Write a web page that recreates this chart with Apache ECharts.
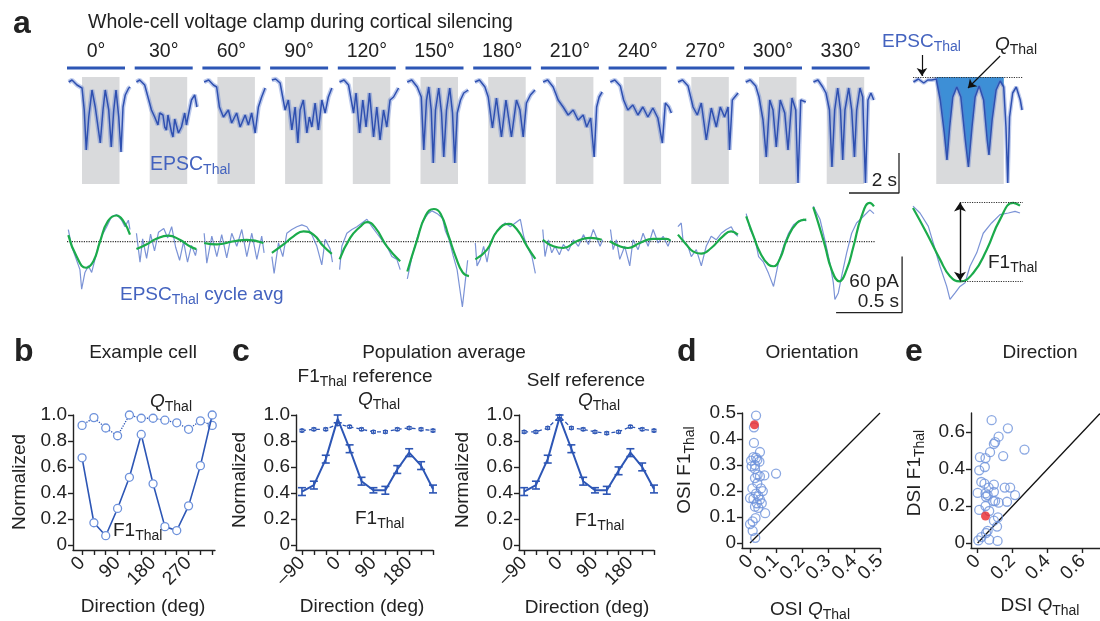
<!DOCTYPE html>
<html>
<head>
<meta charset="utf-8">
<script src="https://cdn.jsdelivr.net/npm/echarts@6/dist/echarts.min.js"></script>
<style>
html, body { margin: 0; padding: 0; background: #fff; }
#chart { width: 1100px; height: 621px; }
</style>
</head>
<body>
<div id="chart"></div>
<script>
const FONT = 'Liberation Sans, Arial, Helvetica, sans-serif';
const INK = '#222';
const TRACE_BLUE = '#2f50b0';
const TEXT_BLUE = '#4463bf';
const LINE_BLUE = '#2d56b5';
const DOT_BLUE = '#6e92db';
const FIT_GREEN = '#1bab4b';
const STIM_GRAY = '#d9dadc';
const FILL_BLUE = '#3d8fd6';
const RED = '#e8262b';

// ---- panel a : whole-cell traces, [time s, current pA] ----
const directions = [0, 30, 60, 90, 120, 150, 180, 210, 240, 270, 300, 330];

const trace000 = [[0.07,-5],[0.2,-3],[0.4,-8],[0.6,-11],[0.69,-33],[0.77,-73],[0.87,-40],[1.0,-13],[1.13,-30],[1.33,-66],[1.44,-33],[1.53,-13],[1.67,-33],[1.77,-70],[1.87,-33],[1.96,-13],[2.07,-40],[2.16,-75],[2.24,-30],[2.33,-18],[2.47,-11],[2.53,-10]];
const trace030 = [[0.07,-5],[0.2,-3],[0.4,-8],[0.53,-20],[0.67,-33],[0.8,-40],[0.93,-48],[1.0,-36],[1.13,-38],[1.2,-50],[1.27,-53],[1.33,-38],[1.4,-40],[1.47,-55],[1.53,-60],[1.6,-42],[1.67,-43],[1.75,-56],[1.87,-50],[2.0,-36],[2.07,-48],[2.13,-40],[2.27,-23],[2.4,-18],[2.49,-30]];
const trace060 = [[0.07,-5],[0.25,-3],[0.44,-8],[0.57,-10],[0.68,-30],[0.84,-40],[1.04,-33],[1.17,-46],[1.37,-36],[1.51,-50],[1.71,-38],[1.84,-48],[1.97,-36],[2.11,-56],[2.24,-30],[2.37,-20],[2.51,-11]];
const trace090 = [[0.07,-3],[0.22,-2],[0.4,-6],[0.6,-33],[0.73,-23],[0.87,-53],[1.0,-30],[1.11,-66],[1.2,-33],[1.33,-23],[1.47,-56],[1.57,-40],[1.67,-50],[1.8,-26],[1.93,-53],[2.07,-23],[2.2,-36],[2.33,-20],[2.47,-11]];
const trace120 = [[0.07,-5],[0.25,-3],[0.43,-8],[0.63,-36],[0.73,-16],[0.87,-56],[1.0,-23],[1.13,-50],[1.27,-16],[1.43,-60],[1.56,-30],[1.69,-63],[1.83,-33],[1.96,-50],[2.09,-23],[2.23,-20],[2.43,-11]];
const trace150 = [[0.07,-5],[0.25,-3],[0.47,-10],[0.63,-20],[0.73,-73],[0.84,-23],[0.93,-10],[1.03,-33],[1.11,-86],[1.2,-33],[1.33,-11],[1.44,-36],[1.53,-80],[1.64,-33],[1.77,-11],[1.88,-36],[1.97,-86],[2.07,-36],[2.2,-23],[2.33,-16],[2.51,-13]];
const trace180 = [[0.07,-5],[0.25,-3],[0.47,-10],[0.6,-20],[0.77,-51],[0.93,-21],[1.13,-60],[1.31,-23],[1.53,-60],[1.73,-23],[1.87,-33],[2.0,-60],[2.13,-26],[2.29,-18],[2.47,-13]];
const trace210 = [[0.09,-5],[0.27,-3],[0.49,-10],[0.69,-23],[0.89,-30],[1.09,-38],[1.29,-33],[1.49,-43],[1.69,-38],[1.83,-50],[1.99,-41],[2.13,-80],[2.23,-30],[2.33,-20],[2.45,-15]];
const trace240 = [[0.07,-5],[0.25,-3],[0.47,-9],[0.6,-23],[0.77,-33],[0.97,-28],[1.17,-38],[1.37,-30],[1.57,-40],[1.77,-31],[1.97,-41],[2.15,-66],[2.27,-26],[2.41,-30],[2.51,-36]];
const trace270 = [[0.07,-5],[0.25,-3],[0.47,-9],[0.67,-30],[0.84,-38],[1.0,-26],[1.2,-63],[1.4,-31],[1.6,-50],[1.76,-30],[1.93,-40],[2.07,-30],[2.13,-73],[2.24,-23],[2.47,-16]];
const trace300 = [[0.07,-5],[0.25,-3],[0.47,-9],[0.6,-20],[0.76,-43],[0.89,-80],[1.03,-23],[1.16,-33],[1.29,-70],[1.45,-23],[1.63,-36],[1.76,-73],[1.92,-21],[2.07,-33],[2.16,-106],[2.27,-23],[2.47,-25]];
const trace330 = [[0.07,-5],[0.25,-3],[0.44,-10],[0.57,-16],[0.71,-33],[0.81,-90],[0.92,-33],[1.04,-11],[1.15,-33],[1.24,-83],[1.33,-33],[1.48,-11],[1.6,-33],[1.71,-80],[1.8,-33],[1.93,-11],[2.04,-20],[2.15,-106],[2.25,-23],[2.37,-16],[2.48,-23]];
const rawTraces = [trace000, trace030, trace060, trace090, trace120, trace150, trace180, trace210, trace240, trace270, trace300, trace330];

// cycle averages (blue) and F1 sinusoid fits (green), [time s, pA]
const cyc000 = [[0.01,13],[0.035,-5],[0.098,-30],[0.111,-51],[0.136,-33],[0.162,-26],[0.187,-33],[0.212,-19],[0.237,-5],[0.263,6],[0.301,16],[0.338,27],[0.376,29],[0.414,23],[0.439,16],[0.465,23],[0.477,13]];
const cyc030 = [[0.013,9],[0.04,-22],[0.06,3],[0.09,-18],[0.12,8],[0.15,-10],[0.18,10],[0.22,14],[0.25,4],[0.28,16],[0.31,-6],[0.34,-20],[0.37,0],[0.4,-22],[0.43,-4],[0.46,-15],[0.47,-8]];
const cyc060 = [[0.013,9],[0.033,-23],[0.071,6],[0.109,-16],[0.146,7.5],[0.184,-17.5],[0.222,9],[0.26,-5],[0.298,13],[0.336,-16],[0.374,9],[0.412,-19],[0.449,6],[0.467,-12]];
const cyc090 = [[0.013,-16],[0.03,-34],[0.063,-1.4],[0.096,-16],[0.126,9],[0.164,13],[0.202,16],[0.24,18],[0.278,16],[0.316,7.5],[0.354,-5],[0.391,-25],[0.417,2.6],[0.455,-8],[0.472,-22]];
const cyc120 = [[0.013,-30],[0.03,-5],[0.068,9],[0.106,13],[0.144,16],[0.182,20],[0.22,24],[0.258,16],[0.295,9],[0.333,2],[0.371,-5],[0.409,-16],[0.447,-19],[0.472,-30]];
const cyc150 = [[0.013,-40],[0.05,-15],[0.09,5],[0.13,22],[0.17,30],[0.2,33],[0.24,30],[0.28,25],[0.3,12],[0.33,2],[0.36,-15],[0.39,-30],[0.41,-50],[0.43,-70],[0.45,-45],[0.47,-20]];
const cyc180 = [[0.015,-1.4],[0.028,-26],[0.053,-19],[0.078,-5],[0.104,-22],[0.129,-1.4],[0.167,9],[0.205,16],[0.242,20],[0.28,16],[0.318,20],[0.356,24],[0.381,6],[0.407,-5],[0.444,-16],[0.47,-34]];
const cyc210 = [[0.013,13],[0.03,-16],[0.056,2],[0.081,-12],[0.106,-5],[0.139,-14],[0.169,-3],[0.207,-10],[0.245,2],[0.283,-5],[0.321,7.5],[0.359,-3],[0.396,13],[0.422,4],[0.447,-5],[0.467,2]];
const cyc240 = [[0.013,13],[0.033,-8.6],[0.058,2],[0.083,-19],[0.121,-5],[0.159,-26],[0.184,2],[0.222,-8.6],[0.26,9],[0.298,-5],[0.336,13],[0.374,-1.4],[0.412,5.7],[0.449,-5],[0.467,2]];
const cyc270 = [[0.011,16],[0.036,20],[0.049,2],[0.087,-5],[0.112,-16],[0.15,-8.6],[0.188,-26],[0.225,-5],[0.263,5.7],[0.301,2],[0.339,9],[0.377,13],[0.415,16],[0.44,9],[0.465,5.7]];
const cyc300 = [[0.015,30],[0.045,13],[0.083,2],[0.109,-16],[0.146,-22],[0.184,-34],[0.222,-48],[0.26,-22],[0.298,-5],[0.336,9],[0.374,18],[0.412,22],[0.449,24],[0.47,22]];
const cyc330 = [[0.01,38],[0.061,24],[0.098,2],[0.136,-23],[0.162,-44],[0.174,-62],[0.2,-55],[0.225,-37],[0.263,-12],[0.301,9],[0.338,20],[0.389,27],[0.439,34],[0.47,30]];
const cycleTraces = [cyc000, cyc030, cyc060, cyc090, cyc120, cyc150, cyc180, cyc210, cyc240, cyc270, cyc300, cyc330];

const fit000 = [[0.01,7],[0.073,-16],[0.144,-28],[0.2,-21],[0.25,0],[0.31,22],[0.376,28],[0.427,22],[0.477,7.5]];
const fit030 = [[0.013,-8],[0.088,-3],[0.164,3],[0.253,6.4],[0.341,2],[0.417,-5],[0.467,-8]];
const fit060 = [[0.013,-1.4],[0.109,-3],[0.235,0.4],[0.336,2],[0.462,-1.4]];
const fit090 = [[0.013,-12],[0.101,-3],[0.177,5.7],[0.253,11],[0.328,7.5],[0.404,-5],[0.467,-13]];
const fit120 = [[0.013,-19],[0.093,4],[0.169,16],[0.22,21],[0.283,15],[0.371,-5],[0.472,-21]];
const fit150 = [[0.013,-32],[0.083,0],[0.152,28],[0.214,35],[0.265,30],[0.328,5],[0.379,-16],[0.432,-33],[0.48,-37]];
const fit180 = [[0.015,-19],[0.104,-8.6],[0.179,11],[0.268,19],[0.331,13],[0.407,-5],[0.47,-18.6]];
const fit210 = [[0.013,2],[0.093,-5],[0.169,-6.8],[0.27,0.4],[0.371,4],[0.46,2]];
const fit240 = [[0.008,0.4],[0.083,-5],[0.146,-6.8],[0.235,-1.4],[0.336,2.9],[0.437,2.9],[0.467,1]];
const fit270 = [[0.011,7.5],[0.074,-3],[0.124,-10.4],[0.187,-12.9],[0.263,-6.8],[0.351,5.7],[0.414,11],[0.465,7.5]];
const fit300 = [[0.015,27],[0.071,5.7],[0.121,-12],[0.184,-24.6],[0.222,-26.4],[0.273,-17.5],[0.323,2],[0.399,20],[0.47,23.6]];
const fit330 = [[0.01,37],[0.048,20],[0.098,-4],[0.149,-30],[0.207,-42.5],[0.263,-30],[0.313,-6],[0.376,27],[0.439,41.5],[0.47,37.8]];
const cycleFits = [fit000, fit030, fit060, fit090, fit120, fit150, fit180, fit210, fit240, fit270, fit300, fit330];

// enlarged example (right of panel a)
const exTrace = [[0.01,-5],[0.12,-2],[0.24,-6],[0.33,-3],[0.42,-3],[0.52,-2],[0.61,-23],[0.7,-56],[0.76,-83],[0.82,-50],[0.89,-20],[0.98,-10],[1.07,-20],[1.17,-63],[1.24,-90],[1.32,-50],[1.39,-20],[1.48,-9],[1.58,-23],[1.66,-63],[1.7,-78],[1.77,-43],[1.86,-13],[1.95,-4],[2.03,-10],[2.08,-50],[2.12,-106],[2.16,-40],[2.23,-16],[2.31,-10],[2.4,-23],[2.44,-33]];
const exCycle = [[0,38],[0.03,30.7],[0.066,16.4],[0.087,-1.4],[0.116,-26.4],[0.145,-48],[0.159,-62],[0.181,-55],[0.202,-48],[0.224,-44],[0.245,-26.4],[0.274,-12],[0.302,9],[0.338,20],[0.374,29],[0.41,30.7],[0.439,32.5],[0.46,30.7]];
const exFit = [[0,36],[0.059,9],[0.116,-19],[0.159,-37],[0.202,-42.5],[0.259,-33.6],[0.317,-8.6],[0.374,23.6],[0.431,41.5],[0.46,38.6]];
const exF1 = 42;

const STIM_ON = 0.6, STIM_OFF = 2.1;          // s, within each sweep
const EX_STIM_ON = 0.52, EX_STIM_OFF = 2.03;  // s, enlarged example
const SCALE_SWEEP_S = 2, SCALE_SWEEP_PA = 40, SCALE_CYC_S = 0.5, SCALE_CYC_PA = 60;

// ---- panel b : example cell ----
const dirB = [0, 30, 60, 90, 120, 150, 180, 210, 240, 270, 300, 330];
const f1B = [0.67, 0.17, 0.07, 0.28, 0.52, 0.85, 0.47, 0.14, 0.11, 0.30, 0.61, 1.0];
const qB = [0.92, 0.98, 0.90, 0.84, 1.0, 0.975, 0.975, 0.96, 0.94, 0.89, 0.955, 0.92];

// ---- panel c : population average ----
const dirC = [-90, -60, -30, 0, 30, 60, 90, 120, 150, 180, 210, 240];
const f1PopRef = [0.41, 0.46, 0.66, 0.97, 0.74, 0.49, 0.42, 0.42, 0.58, 0.71, 0.61, 0.43];
const f1PopRefErr = [0.03, 0.03, 0.03, 0.03, 0.03, 0.03, 0.02, 0.03, 0.03, 0.03, 0.03, 0.03];
const qPopRef = [0.88, 0.89, 0.89, 0.93, 0.91, 0.89, 0.87, 0.87, 0.89, 0.90, 0.89, 0.88];
const qPopRefErr = [0.01, 0.01, 0.01, 0.01, 0.01, 0.01, 0.01, 0.01, 0.01, 0.01, 0.01, 0.01];
const f1PopSelf = [0.41, 0.46, 0.66, 0.98, 0.74, 0.49, 0.42, 0.42, 0.57, 0.71, 0.60, 0.43];
const f1PopSelfErr = [0.03, 0.03, 0.03, 0.02, 0.03, 0.03, 0.02, 0.03, 0.03, 0.03, 0.03, 0.03];
const qPopSelf = [0.87, 0.87, 0.90, 0.99, 0.90, 0.89, 0.87, 0.86, 0.87, 0.91, 0.89, 0.88];
const qPopSelfErr = [0.01, 0.01, 0.01, 0.01, 0.01, 0.01, 0.01, 0.01, 0.01, 0.01, 0.01, 0.01];

// ---- panel d : orientation selectivity ----
const osiQ = [0.023,0.015,0.015,0.038,0.013,0.023,0.004,0.028,0.036,0.006,0.019,0.019,0.1,0.055,0.029,0.038,0.019,0.028,0.009,0.042,0.049,0.023,0.032,0,0.013,0.038,0.026,0.045,0.019,0.032,0.058,0.021,0.01,0.0,0.01,0.02];
const osiF1 = [0.49,0.445,0.385,0.35,0.33,0.328,0.317,0.32,0.313,0.295,0.30,0.285,0.267,0.26,0.263,0.256,0.25,0.23,0.21,0.21,0.2,0.19,0.18,0.173,0.17,0.167,0.153,0.153,0.14,0.135,0.115,0.096,0.083,0.073,0.047,0.02];
const osiExample = [0.017, 0.455];
const osiTicks = [0, 0.1, 0.2, 0.3, 0.4, 0.5];

// ---- panel e : direction selectivity ----
const dsiQ = [0.08,0.173,0.268,0.12,0.093,0.10,0.071,0.013,0.045,0.146,0.041,0.009,0.021,0.039,0.093,0.063,0.093,0.155,0.186,0,0.045,0.057,0.048,0.214,0.089,0.1,0.12,0.168,0.045,0.009,0.066,0.116,0.093,0.111,0.057,0.048,0.021,0.004,0.066,0.114];
const dsiF1 = [0.664,0.62,0.505,0.575,0.536,0.545,0.491,0.464,0.459,0.47,0.411,0.393,0.33,0.321,0.316,0.3,0.277,0.3,0.3,0.271,0.268,0.259,0.25,0.259,0.227,0.227,0.218,0.223,0.2,0.179,0.173,0.139,0.121,0.089,0.066,0.054,0.032,0.014,0.018,0.011];
const dsiExample = [0.045, 0.146];

// ---- layout ----
const SWEEP_GAP = 2.708;  // s between sweep starts on the drawing
const CYCLE_GAP = 0.513;

const fmtNorm = v => v === 0 ? '0' : v.toFixed(1);
const fmtDeg = v => v < 0 ? '\u2013' + Math.abs(v) : String(v);

function rich(size) {
  return {
    n: { fontSize: size, fontFamily: FONT },
    i: { fontSize: size, fontFamily: FONT, fontStyle: 'italic' },
    s: { fontSize: Math.round(size * 0.72), fontFamily: FONT, padding: [Math.round(size * 0.5), 0, 0, 0] }
  };
}
function T(x, y, text, o) {
  o = o || {};
  const size = o.size || 19;
  return {
    type: 'text', x: x, y: y, rotation: o.rot || 0, silent: true, z: 100,
    style: {
      text: text, fill: o.fill || INK, fontSize: size, fontFamily: FONT,
      fontWeight: o.weight || 'normal',
      align: o.align || 'center', textAlign: o.align || 'center',
      verticalAlign: 'middle', textVerticalAlign: 'middle',
      rich: rich(size)
    }
  };
}

function hiddenAxis(gi, min, max) {
  return { type: 'value', gridIndex: gi, min: min, max: max, show: false };
}
function panelAxis(gi, min, max, ticks, fmt, rotate) {
  return {
    type: 'value', gridIndex: gi, min: min, max: max,
    axisLine: { show: true, onZero: false, lineStyle: { color: INK, width: 1.4 } },
    axisTick: { show: true, customValues: ticks, length: 5, lineStyle: { color: INK, width: 1.4 } },
    axisLabel: { show: true, customValues: ticks, rotate: rotate || 0, color: INK, fontFamily: FONT,
      fontSize: 19, margin: rotate ? 10 : 6, formatter: fmt,
      showMinLabel: true, showMaxLabel: true, hideOverlap: false },
    splitLine: { show: false }
  };
}

function errorSeries(gi, xs, ys, es, color, cap, width) {
  return {
    type: 'custom', xAxisIndex: gi, yAxisIndex: gi, silent: true, z: 4,
    data: xs.map((x, i) => [x, ys[i], es[i]]),
    renderItem: function (params, api) {
      const x = api.value(0), y = api.value(1), e = api.value(2);
      const lo = api.coord([x, y - e]), hi = api.coord([x, y + e]);
      const st = { stroke: color, lineWidth: width };
      return { type: 'group', children: [
        { type: 'line', shape: { x1: lo[0], y1: lo[1], x2: hi[0], y2: hi[1] }, style: st },
        { type: 'line', shape: { x1: lo[0] - cap, y1: lo[1], x2: lo[0] + cap, y2: lo[1] }, style: st },
        { type: 'line', shape: { x1: hi[0] - cap, y1: hi[1], x2: hi[0] + cap, y2: hi[1] }, style: st }
      ] };
    }
  };
}

const grids = [
  { left: 67, top: 40, width: 840, height: 155 },   // 0 sweeps
  { left: 913, top: 40, width: 115, height: 155 },  // 1 example sweep
  { left: 67, top: 195, width: 838, height: 125 },  // 2 cycle averages
  { left: 913, top: 195, width: 110, height: 125 }, // 3 example cycle
  { left: 73, top: 415, width: 142, height: 135 },  // 4 b
  { left: 296, top: 415, width: 137, height: 135 }, // 5 c left
  { left: 519, top: 415, width: 135, height: 135 }, // 6 c right
  { left: 742, top: 413, width: 138, height: 135 }, // 7 d
  { left: 971, top: 413, width: 137, height: 135 }  // 8 e
];

const normTicks = [0, 0.2, 0.4, 0.6, 0.8, 1.0];
const xAxes = [
  hiddenAxis(0, 0, 33.6), hiddenAxis(1, 0, 2.573), hiddenAxis(2, 0, 6.348), hiddenAxis(3, 0, 0.473),
  panelAxis(4, -23, 337, [0, 30, 60, 90, 120, 150, 180, 210, 240, 270, 300, 330], fmtDeg, 45),
  panelAxis(5, -105, 240, dirC, fmtDeg, 45),
  panelAxis(6, -103, 240, dirC, fmtDeg, 45),
  panelAxis(7, -0.031, 0.5, osiTicks, fmtNorm, 45),
  panelAxis(8, -0.038, 0.7, [0, 0.2, 0.4, 0.6], fmtNorm, 45)
];
// label subsets
xAxes[4].axisLabel.customValues = [0, 90, 180, 270];
xAxes[5].axisLabel.customValues = [-90, 0, 90, 180];
xAxes[6].axisLabel.customValues = [-90, 0, 90, 180];
// panel d: the axis drops crowded rotated labels, so they are drawn by a custom series below
xAxes[7].axisLabel.show = false;

const yAxes = [
  hiddenAxis(0, -118, 37), hiddenAxis(1, -118, 37), hiddenAxis(2, -84, 50), hiddenAxis(3, -84, 50),
  panelAxis(4, -0.04, 1.0, normTicks, fmtNorm),
  panelAxis(5, -0.04, 1.0, normTicks, fmtNorm),
  panelAxis(6, -0.04, 1.0, normTicks, fmtNorm),
  panelAxis(7, -0.019, 0.5, osiTicks, fmtNorm),
  panelAxis(8, -0.027, 0.703, [0, 0.2, 0.4, 0.6], fmtNorm)
];

const series = [];

// stimulus windows (gray)
series.push({
  type: 'custom', xAxisIndex: 0, yAxisIndex: 0, silent: true, z: 1,
  data: directions.map((d, i) => [i * SWEEP_GAP]),
  renderItem: function (params, api) {
    const x0 = api.value(0);
    const a = api.coord([x0 + STIM_ON, 0]), b = api.coord([x0 + STIM_OFF, -107]);
    return { type: 'rect', shape: { x: a[0], y: a[1], width: b[0] - a[0], height: b[1] - a[1] }, style: { fill: STIM_GRAY } };
  }
});
// direction bars + labels
series.push({
  type: 'custom', xAxisIndex: 0, yAxisIndex: 0, silent: true, z: 2,
  data: directions.map((d, i) => [i * SWEEP_GAP, d]),
  renderItem: function (params, api) {
    const x0 = api.value(0);
    const p0 = api.coord([x0, 9]), p1 = api.coord([x0 + 2.32, 9]), pt = api.coord([x0 + 1.16, 25]);
    return { type: 'group', children: [
      { type: 'line', shape: { x1: p0[0], y1: p0[1], x2: p1[0], y2: p1[1] }, style: { stroke: LINE_BLUE, lineWidth: 3 } },
      { type: 'text', x: pt[0], y: pt[1], style: { text: api.value(1) + '\u00b0', fontSize: 19.5, fontFamily: FONT, fill: INK, align: 'center', verticalAlign: 'middle' } }
    ] };
  }
});
rawTraces.forEach((tr, i) => {
  const pts = tr.map(p => [i * SWEEP_GAP + p[0], p[1]]);
  // noisy band behind, thin core on top
  series.push({
    type: 'line', xAxisIndex: 0, yAxisIndex: 0, z: 3, symbol: 'none', silent: true,
    lineStyle: { color: '#5a7bd0', width: 4.5, opacity: 0.4 }, data: pts
  });
  series.push({
    type: 'line', xAxisIndex: 0, yAxisIndex: 0, z: 4, symbol: 'none', silent: true,
    lineStyle: { color: TRACE_BLUE, width: 1.5 }, data: pts
  });
});
// 2 s scale bar
series.push({
  type: 'line', xAxisIndex: 0, yAxisIndex: 0, symbol: 'none', silent: true, z: 3,
  lineStyle: { color: INK, width: 1.3 },
  data: [[33.28 - SCALE_SWEEP_S, -116], [33.28, -116], [33.28, -116 + SCALE_SWEEP_PA]]
});

// example sweep
series.push({
  type: 'custom', xAxisIndex: 1, yAxisIndex: 1, silent: true, z: 1, data: [[EX_STIM_ON, EX_STIM_OFF]],
  renderItem: function (params, api) {
    const a = api.coord([api.value(0), 0]), b = api.coord([api.value(1), -107]);
    return { type: 'rect', shape: { x: a[0], y: a[1], width: b[0] - a[0], height: b[1] - a[1] }, style: { fill: STIM_GRAY } };
  }
});
series.push({
  type: 'line', xAxisIndex: 1, yAxisIndex: 1, z: 2, symbol: 'none', silent: true,
  lineStyle: { width: 0 }, areaStyle: { color: FILL_BLUE, opacity: 1 },
  data: exTrace.filter(p => p[0] >= EX_STIM_ON && p[0] <= EX_STIM_OFF),
  markLine: { silent: true, symbol: 'none', label: { show: false },
    lineStyle: { color: '#333', type: 'dotted', width: 1.2 },
    data: [[{ coord: [0, 0] }, { coord: [2.45, 0] }]] }
});
series.push({
  type: 'line', xAxisIndex: 1, yAxisIndex: 1, z: 3, symbol: 'none', silent: true,
  lineStyle: { color: '#5a7bd0', width: 4, opacity: 0.4 }, data: exTrace
});
series.push({
  type: 'line', xAxisIndex: 1, yAxisIndex: 1, z: 4, symbol: 'none', silent: true,
  lineStyle: { color: TRACE_BLUE, width: 1.5 }, data: exTrace,
  markLine: { silent: true, symbol: ['none', 'arrow'], symbolSize: 8, label: { show: false },
    lineStyle: { color: '#111', type: 'solid', width: 1.2 },
    data: [[{ coord: [0.2, 22] }, { coord: [0.2, 1] }], [{ coord: [1.95, 21] }, { coord: [1.23, -11] }]] }
});

// cycle averages
series.push({
  type: 'line', xAxisIndex: 2, yAxisIndex: 2, symbol: 'none', silent: true, z: 2,
  lineStyle: { color: '#333', type: 'dotted', width: 1.2 },
  data: [[0, 0], [11 * CYCLE_GAP + 0.48, 0]]
});
cycleTraces.forEach((tr, i) => series.push({
  type: 'line', xAxisIndex: 2, yAxisIndex: 2, z: 3, symbol: 'none', silent: true,
  lineStyle: { color: '#5a78cc', width: 1.2, opacity: 0.8 },
  data: tr.map(p => [i * CYCLE_GAP + p[0], p[1]])
}));
cycleFits.forEach((tr, i) => series.push({
  type: 'line', xAxisIndex: 2, yAxisIndex: 2, z: 4, symbol: 'none', silent: true, smooth: true,
  lineStyle: { color: FIT_GREEN, width: 2.2 },
  data: tr.map(p => [i * CYCLE_GAP + p[0], p[1]])
}));
series.push({
  type: 'line', xAxisIndex: 2, yAxisIndex: 2, symbol: 'none', silent: true, z: 3,
  lineStyle: { color: INK, width: 1.3 },
  data: [[6.326 - SCALE_CYC_S, -76], [6.326, -76], [6.326, -76 + SCALE_CYC_PA]]
});
// example cycle
series.push({
  type: 'line', xAxisIndex: 3, yAxisIndex: 3, z: 3, symbol: 'none', silent: true,
  lineStyle: { color: '#5a78cc', width: 1.2, opacity: 0.8 }, data: exCycle,
  markLine: { silent: true, symbol: 'none', label: { show: false },
    lineStyle: { color: '#333', type: 'dotted', width: 1.2 },
    data: [[{ coord: [0.202, exF1] }, { coord: [0.473, exF1] }], [{ coord: [0.202, -exF1] }, { coord: [0.473, -exF1] }]] }
});
series.push({
  type: 'line', xAxisIndex: 3, yAxisIndex: 3, z: 4, symbol: 'none', silent: true, smooth: true,
  lineStyle: { color: FIT_GREEN, width: 2.2 }, data: exFit,
  markLine: { silent: true, symbol: ['arrow', 'arrow'], symbolSize: 9, label: { show: false },
    lineStyle: { color: '#111', type: 'solid', width: 1.4 },
    data: [[{ coord: [0.202, -exF1] }, { coord: [0.202, exF1] }]] }
});

// panel b
const hollow = { color: '#fff', borderColor: DOT_BLUE, borderWidth: 1.3 };
series.push({
  type: 'line', xAxisIndex: 4, yAxisIndex: 4, silent: true, z: 3,
  symbol: 'circle', symbolSize: 8, itemStyle: hollow,
  lineStyle: { color: LINE_BLUE, width: 1.3, type: 'dotted' },
  data: dirB.map((d, i) => [d, qB[i]])
});
series.push({
  type: 'line', xAxisIndex: 4, yAxisIndex: 4, silent: true, z: 4,
  symbol: 'circle', symbolSize: 8, itemStyle: hollow,
  lineStyle: { color: LINE_BLUE, width: 1.6 },
  data: dirB.map((d, i) => [d, f1B[i]])
});

// panel c
[[5, f1PopRef, f1PopRefErr, qPopRef, qPopRefErr], [6, f1PopSelf, f1PopSelfErr, qPopSelf, qPopSelfErr]].forEach(c => {
  const gi = c[0];
  series.push({
    type: 'line', xAxisIndex: gi, yAxisIndex: gi, silent: true, z: 3,
    symbol: 'circle', symbolSize: 4, itemStyle: { color: '#fff', borderColor: LINE_BLUE, borderWidth: 1 },
    lineStyle: { color: LINE_BLUE, width: 1.3, type: [4, 3] },
    data: dirC.map((d, i) => [d, c[3][i]])
  });
  series.push(errorSeries(gi, dirC, c[3], c[4], LINE_BLUE, 2.5, 1.2));
  series.push({
    type: 'line', xAxisIndex: gi, yAxisIndex: gi, silent: true, z: 4, symbol: 'none',
    lineStyle: { color: LINE_BLUE, width: 2 },
    data: dirC.map((d, i) => [d, c[1][i]])
  });
  series.push(errorSeries(gi, dirC, c[1], c[2], LINE_BLUE, 4, 1.6));
});

// panels d, e
[[7, osiQ, osiF1, osiExample, 0.5], [8, dsiQ, dsiF1, dsiExample, 0.7]].forEach(c => {
  const gi = c[0];
  series.push({
    type: 'line', xAxisIndex: gi, yAxisIndex: gi, silent: true, z: 2, symbol: 'none',
    lineStyle: { color: '#111', width: 1.3 }, data: [[0, 0], [c[4], c[4]]]
  });
  series.push({
    type: 'scatter', xAxisIndex: gi, yAxisIndex: gi, silent: true, z: 3,
    symbol: 'circle', symbolSize: 9,
    itemStyle: { color: 'rgba(255,255,255,0)', borderColor: DOT_BLUE, borderWidth: 1.3 },
    data: c[1].map((v, i) => [v, c[2][i]])
  });
  series.push({
    type: 'scatter', xAxisIndex: gi, yAxisIndex: gi, silent: true, z: 4,
    symbol: 'circle', symbolSize: 9, itemStyle: { color: RED },
    data: [c[3]]
  });
});
// rotated tick labels of panel d's x axis
series.push({
  type: 'custom', xAxisIndex: 7, yAxisIndex: 7, silent: true, clip: false, z: 5,
  data: osiTicks.map(v => [v]),
  renderItem: function (params, api) {
    const p = api.coord([api.value(0), -0.019]);
    return { type: 'text', x: p[0], y: p[1] + 10, rotation: Math.PI / 4,
      style: { text: fmtNorm(api.value(0)), fontSize: 19, fontFamily: FONT, fill: INK,
        align: 'right', verticalAlign: 'middle' } };
  }
});

const texts = [
  T(13, 24, 'a', { size: 32, weight: 'bold', align: 'left' }),
  T(88, 23, 'Whole-cell voltage clamp during cortical silencing', { align: 'left', size: 19.5 }),
  T(150, 165, '{n|EPSC}{s|Thal}', { fill: TEXT_BLUE, align: 'left', size: 19.5 }),
  T(897, 181, '2 s', { align: 'right' }),
  T(882, 42, '{n|EPSC}{s|Thal}', { fill: TEXT_BLUE, align: 'left' }),
  T(995, 45, '{i|Q}{s|Thal}', { align: 'left' }),
  T(120, 295, '{n|EPSC}{s|Thal}{n| cycle avg}', { fill: TEXT_BLUE, align: 'left' }),
  T(899, 282, '60 pA', { align: 'right' }),
  T(899, 302, '0.5 s', { align: 'right' }),
  T(988, 263, '{n|F1}{s|Thal}', { align: 'left' }),

  T(14, 352, 'b', { size: 32, weight: 'bold', align: 'left' }),
  T(143, 353, 'Example cell'),
  T(150, 402, '{i|Q}{s|Thal}', { align: 'left' }),
  T(113, 531, '{n|F1}{s|Thal}', { align: 'left' }),
  T(20, 482, 'Normalized', { rot: Math.PI / 2 }),
  T(143, 607, 'Direction (deg)'),

  T(232, 352, 'c', { size: 32, weight: 'bold', align: 'left' }),
  T(444, 353, 'Population average'),
  T(365, 377, '{n|F1}{s|Thal}{n| reference}'),
  T(358, 400, '{i|Q}{s|Thal}', { align: 'left' }),
  T(355, 519, '{n|F1}{s|Thal}', { align: 'left' }),
  T(240, 480, 'Normalized', { rot: Math.PI / 2 }),
  T(362, 607, 'Direction (deg)'),
  T(586, 381, 'Self reference'),
  T(578, 401, '{i|Q}{s|Thal}', { align: 'left' }),
  T(575, 521, '{n|F1}{s|Thal}', { align: 'left' }),
  T(463, 480, 'Normalized', { rot: Math.PI / 2 }),
  T(587, 608, 'Direction (deg)'),

  T(677, 352, 'd', { size: 32, weight: 'bold', align: 'left' }),
  T(812, 353, 'Orientation'),
  T(685, 470, '{n|OSI F1}{s|Thal}', { rot: Math.PI / 2 }),
  T(810, 610, '{n|OSI }{i|Q}{s|Thal}'),

  T(905, 352, 'e', { size: 32, weight: 'bold', align: 'left' }),
  T(1040, 353, 'Direction'),
  T(915, 473, '{n|DSI F1}{s|Thal}', { rot: Math.PI / 2 }),
  T(1040, 606, '{n|DSI }{i|Q}{s|Thal}')
];

const chart = echarts.init(document.getElementById('chart'));
chart.setOption({
  animation: false,
  backgroundColor: '#fff',
  textStyle: { fontFamily: FONT },
  grid: grids,
  xAxis: xAxes,
  yAxis: yAxes,
  series: series,
  graphic: { elements: texts }
});
</script>
</body>
</html>
